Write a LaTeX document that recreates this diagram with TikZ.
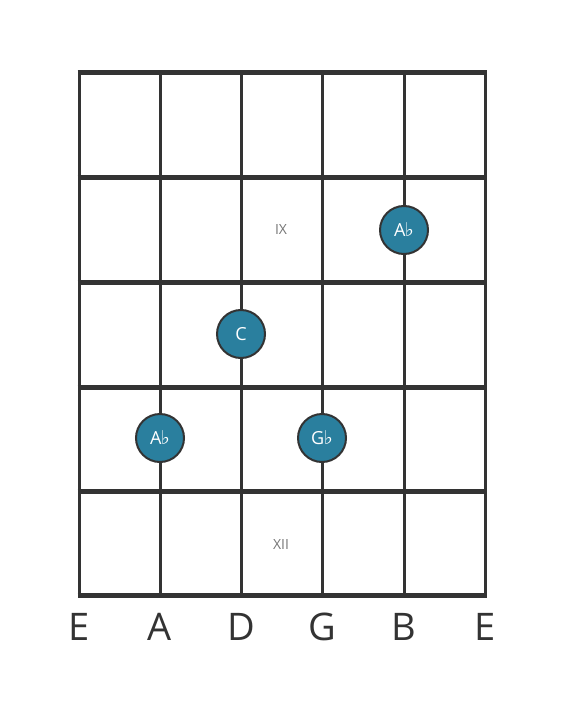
\documentclass[tikz,border=0pt]{standalone}
\usepackage{fontspec}
\setmainfont{Open Sans}
\newfontfamily\symfont{DejaVu Sans}
\definecolor{linec}{HTML}{333333}
\definecolor{notec}{HTML}{2A7F9E}
\definecolor{romc}{HTML}{777777}
\newcommand{\flatsym}{\kern-0.5pt{\symfont\fontsize{19}{19}\selectfont ♭}}
\begin{document}
\begin{tikzpicture}[x=1pt,y=-1pt,
  stringline/.style={draw=linec,line width=3pt},
  fretline/.style={draw=linec,line width=5pt},
  note/.style={circle,draw=linec,line width=2pt,fill=notec,minimum size=48pt,inner sep=0pt,text=white,font=\fontsize{18}{18}\selectfont},
  roman/.style={text=romc,font=\fontsize{14}{14}\selectfont},
  strlabel/.style={text=linec,font=\fontsize{38}{38}\selectfont,anchor=base}]
\useasboundingbox (0,0) rectangle (566,711);
\fill[white] (0,0) rectangle (566,711);
% strings
\foreach \x [count=\i] in {79,160,241,322,404,485} {
  \coordinate (st\i) at (\x,73);
  \coordinate (sb\i) at (\x,595);
  \draw[stringline] (st\i) -- (sb\i);
}
% frets
\foreach \y [count=\j] in {73,178,282,387,491,595} {
  \coordinate (fl\j) at (77.5,\y);
  \coordinate (fr\j) at (486.5,\y);
  \draw[fretline] (fl\j) -- (fr\j);
}
% roman numerals
\node[roman] (nine) at (281,230) {IX};
\node[roman] (twelve) at (281,544) {XII};
% notes
\node[note] (n1) at (404,230) {A\flatsym};
\node[note] (n2) at (241,334) {C};
\node[note] (n3) at (160,438) {A\flatsym};
\node[note] (n4) at (322,438) {G\flatsym};
% string labels
\foreach \x/\l [count=\k] in {79/E,160/A,241/D,322/G,404/B,485/E} {
  \node[strlabel] (lab\k) at (\x,640) {\l};
}
\end{tikzpicture}
\end{document}
